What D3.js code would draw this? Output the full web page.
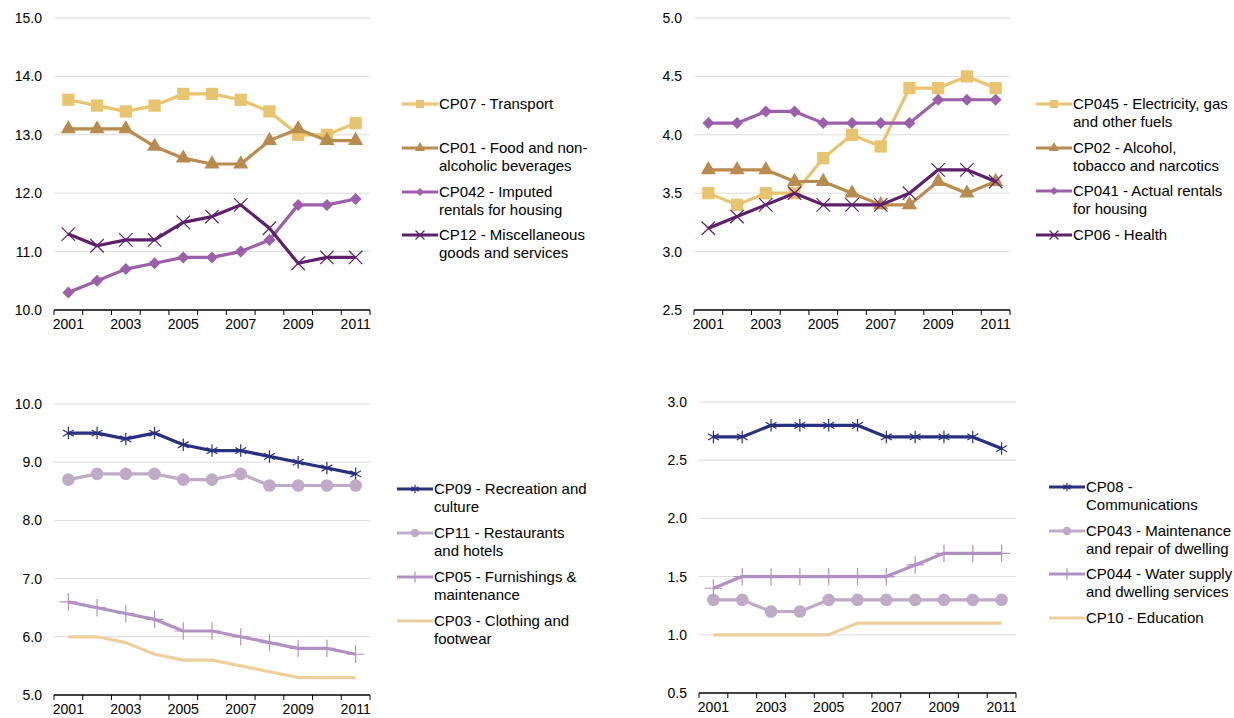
<!DOCTYPE html>
<html>
<head>
<meta charset="utf-8">
<script src="https://cdn.jsdelivr.net/npm/d3@7"></script>
<style>
  body { margin: 0; background: #fff; }
  svg { display: block; font-family: "Liberation Sans", Arial, sans-serif; }
</style>
</head>
<body>
<svg id="chart" width="1234" height="718"></svg>
<script>
const years = ["2001", "2002", "2003", "2004", "2005", "2006", "2007", "2008", "2009", "2010", "2011"];

// top-left panel
const cp07 = [13.6, 13.5, 13.4, 13.5, 13.7, 13.7, 13.6, 13.4, 13.0, 13.0, 13.2];
const cp01 = [13.1, 13.1, 13.1, 12.8, 12.6, 12.5, 12.5, 12.9, 13.1, 12.9, 12.9];
const cp042 = [10.3, 10.5, 10.7, 10.8, 10.9, 10.9, 11.0, 11.2, 11.8, 11.8, 11.9];
const cp12 = [11.3, 11.1, 11.2, 11.2, 11.5, 11.6, 11.8, 11.4, 10.8, 10.9, 10.9];

// top-right panel
const cp045 = [3.5, 3.4, 3.5, 3.5, 3.8, 4.0, 3.9, 4.4, 4.4, 4.5, 4.4];
const cp02 = [3.7, 3.7, 3.7, 3.6, 3.6, 3.5, 3.4, 3.4, 3.6, 3.5, 3.6];
const cp041 = [4.1, 4.1, 4.2, 4.2, 4.1, 4.1, 4.1, 4.1, 4.3, 4.3, 4.3];
const cp06 = [3.2, 3.3, 3.4, 3.5, 3.4, 3.4, 3.4, 3.5, 3.7, 3.7, 3.6];

// bottom-left panel
const cp09 = [9.5, 9.5, 9.4, 9.5, 9.3, 9.2, 9.2, 9.1, 9.0, 8.9, 8.8];
const cp11 = [8.7, 8.8, 8.8, 8.8, 8.7, 8.7, 8.8, 8.6, 8.6, 8.6, 8.6];
const cp05 = [6.6, 6.5, 6.4, 6.3, 6.1, 6.1, 6.0, 5.9, 5.8, 5.8, 5.7];
const cp03 = [6.0, 6.0, 5.9, 5.7, 5.6, 5.6, 5.5, 5.4, 5.3, 5.3, 5.3];

// bottom-right panel
const cp08 = [2.7, 2.7, 2.8, 2.8, 2.8, 2.8, 2.7, 2.7, 2.7, 2.7, 2.6];
const cp043 = [1.3, 1.3, 1.2, 1.2, 1.3, 1.3, 1.3, 1.3, 1.3, 1.3, 1.3];
const cp044 = [1.4, 1.5, 1.5, 1.5, 1.5, 1.5, 1.5, 1.6, 1.7, 1.7, 1.7];
const cp10 = [1.0, 1.0, 1.0, 1.0, 1.0, 1.1, 1.1, 1.1, 1.1, 1.1, 1.1];

const yTicks1 = [10, 11, 12, 13, 14, 15];
const yTicks2 = [2.5, 3.0, 3.5, 4.0, 4.5, 5.0];
const yTicks3 = [5, 6, 7, 8, 9, 10];
const yTicks4 = [0.5, 1.0, 1.5, 2.0, 2.5, 3.0];

const panels = [
  {
    box: { left: 54, right: 370, top: 18, bottom: 310 }, ticks: yTicks1, legendX: 402, legendY: [104, 148, 192, 235],
    series: [
      { name: ["CP07 - Transport"], values: cp07, color: "#E8C46F", marker: "square" },
      { name: ["CP01 - Food and non-", "alcoholic beverages"], values: cp01, color: "#B98B4F", marker: "triangle" },
      { name: ["CP042 - Imputed", "rentals for housing"], values: cp042, color: "#9C5FA9", marker: "diamond" },
      { name: ["CP12 - Miscellaneous", "goods and services"], values: cp12, color: "#5E1F6C", marker: "x" }
    ]
  },
  {
    box: { left: 694, right: 1010, top: 18, bottom: 310 }, ticks: yTicks2, legendX: 1036, legendY: [104, 148, 191, 235],
    series: [
      { name: ["CP045 - Electricity, gas", "and other fuels"], values: cp045, color: "#E8C46F", marker: "square" },
      { name: ["CP02 - Alcohol,", "tobacco and narcotics"], values: cp02, color: "#B98B4F", marker: "triangle" },
      { name: ["CP041 - Actual rentals", "for housing"], values: cp041, color: "#9C5FA9", marker: "diamond" },
      { name: ["CP06 - Health"], values: cp06, color: "#5E1F6C", marker: "x" }
    ]
  },
  {
    box: { left: 54, right: 370, top: 404, bottom: 695 }, ticks: yTicks3, legendX: 397, legendY: [489, 533, 577, 621],
    series: [
      { name: ["CP09 - Recreation and", "culture"], values: cp09, color: "#29307F", marker: "asterisk" },
      { name: ["CP11 - Restaurants", "and hotels"], values: cp11, color: "#BEABC7", marker: "circle" },
      { name: ["CP05 - Furnishings &", "maintenance"], values: cp05, color: "#B191C2", marker: "plus" },
      { name: ["CP03 - Clothing and", "footwear"], values: cp03, color: "#ECD09B", marker: "none" }
    ]
  },
  {
    box: { left: 699, right: 1016, top: 402, bottom: 693 }, ticks: yTicks4, legendX: 1049, legendY: [487, 531, 574, 618],
    series: [
      { name: ["CP08 -", "Communications"], values: cp08, color: "#29307F", marker: "asterisk" },
      { name: ["CP043 - Maintenance", "and repair of dwelling"], values: cp043, color: "#BEABC7", marker: "circle" },
      { name: ["CP044 - Water supply", "and dwelling services"], values: cp044, color: "#B191C2", marker: "plus" },
      { name: ["CP10 - Education"], values: cp10, color: "#ECD09B", marker: "none" }
    ]
  }
];

const svg = d3.select("#chart");

const markerTypes = {
  square: { type: d3.symbolSquare, size: 150, fill: true, rot: 0 },
  triangle: { type: d3.symbolTriangle, size: 100, fill: true, rot: 0 },
  diamond: { type: d3.symbolSquare, size: 72, fill: true, rot: 45 },
  circle: { type: d3.symbolCircle, size: 125, fill: true, rot: 0 },
  x: { type: d3.symbolX, size: 120, fill: false, rot: 0 },
  asterisk: { type: d3.symbolAsterisk, size: 110, fill: false, rot: 0 },
  plus: { type: d3.symbolPlus, size: 100, fill: false, rot: 0 }
};

function drawMarker(g, kind, color, x, y, scale) {
  const m = markerTypes[kind];
  if (!m) return;
  const p = g.append("path")
    .attr("d", d3.symbol().type(m.type).size(m.size * scale)())
    .attr("transform", `translate(${x},${y}) rotate(${m.rot})`);
  if (m.fill) p.attr("fill", color).attr("stroke", "none");
  else p.attr("fill", "none").attr("stroke", color).attr("stroke-width", 1.2);
}

panels.forEach(panel => {
  const { left, right, top, bottom } = panel.box;
  const g = svg.append("g");

  const x = d3.scaleBand().domain(years).range([left, right]);
  const y = d3.scaleLinear().domain(d3.extent(panel.ticks)).range([bottom, top]);

  // gridlines
  g.append("g").selectAll("line")
    .data(panel.ticks.slice(1))
    .join("line")
    .attr("x1", left).attr("x2", right)
    .attr("y1", d => y(d)).attr("y2", d => y(d))
    .attr("stroke", "#dcdcdc").attr("stroke-width", 1);

  // y labels
  const yAxis = g.append("g")
    .attr("transform", `translate(${left},0)`)
    .call(d3.axisLeft(y).tickValues(panel.ticks).tickFormat(d3.format(".1f")).tickSize(0).tickPadding(12));
  yAxis.select(".domain").remove();
  yAxis.attr("font-size", 14).attr("font-family", "Liberation Sans, Arial, sans-serif");
  yAxis.selectAll("text").attr("fill", "#000");

  // x axis line and category ticks
  g.append("line")
    .attr("x1", left).attr("x2", right)
    .attr("y1", bottom).attr("y2", bottom)
    .attr("stroke", "#000").attr("stroke-width", 1.5);
  const bounds = years.map(yr => x(yr)).concat([x(years[years.length - 1]) + x.bandwidth()]);
  g.append("g").selectAll("line")
    .data(bounds)
    .join("line")
    .attr("x1", d => d).attr("x2", d => d)
    .attr("y1", bottom).attr("y2", bottom + 5)
    .attr("stroke", "#000").attr("stroke-width", 1);

  const xAxis = g.append("g")
    .attr("transform", `translate(0,${bottom})`)
    .call(d3.axisBottom(x).tickSize(0).tickPadding(9).tickFormat(d => (+d % 2 === 1 ? d : "")));
  xAxis.select(".domain").remove();
  xAxis.attr("font-size", 14).attr("font-family", "Liberation Sans, Arial, sans-serif");
  xAxis.selectAll("text").attr("fill", "#000");

  const cx = i => x(years[i]) + x.bandwidth() / 2;
  const line = d3.line().x((d, i) => cx(i)).y(d => y(d));

  panel.series.forEach((s, si) => {
    g.append("path")
      .datum(s.values)
      .attr("d", line)
      .attr("fill", "none")
      .attr("stroke", s.color)
      .attr("stroke-width", 3.2)
      .attr("stroke-linejoin", "round");

    s.values.forEach((v, i) => drawMarker(g, s.marker, s.color, cx(i), y(v), 1));

    // legend
    const ly = panel.legendY[si];
    const lx = panel.legendX;
    g.append("line")
      .attr("x1", lx).attr("x2", lx + 36)
      .attr("y1", ly).attr("y2", ly)
      .attr("stroke", s.color).attr("stroke-width", 3.2);
    drawMarker(g, s.marker, s.color, lx + 18, ly, 0.45);
    const t = g.append("text")
      .attr("x", lx + 37)
      .attr("y", ly + 5)
      .attr("font-size", 15)
      .attr("fill", "#000");
    s.name.forEach((nm, k) => {
      t.append("tspan").attr("x", lx + 37).attr("dy", k === 0 ? 0 : 17.5).text(nm);
    });
  });
});
</script>
</body>
</html>
